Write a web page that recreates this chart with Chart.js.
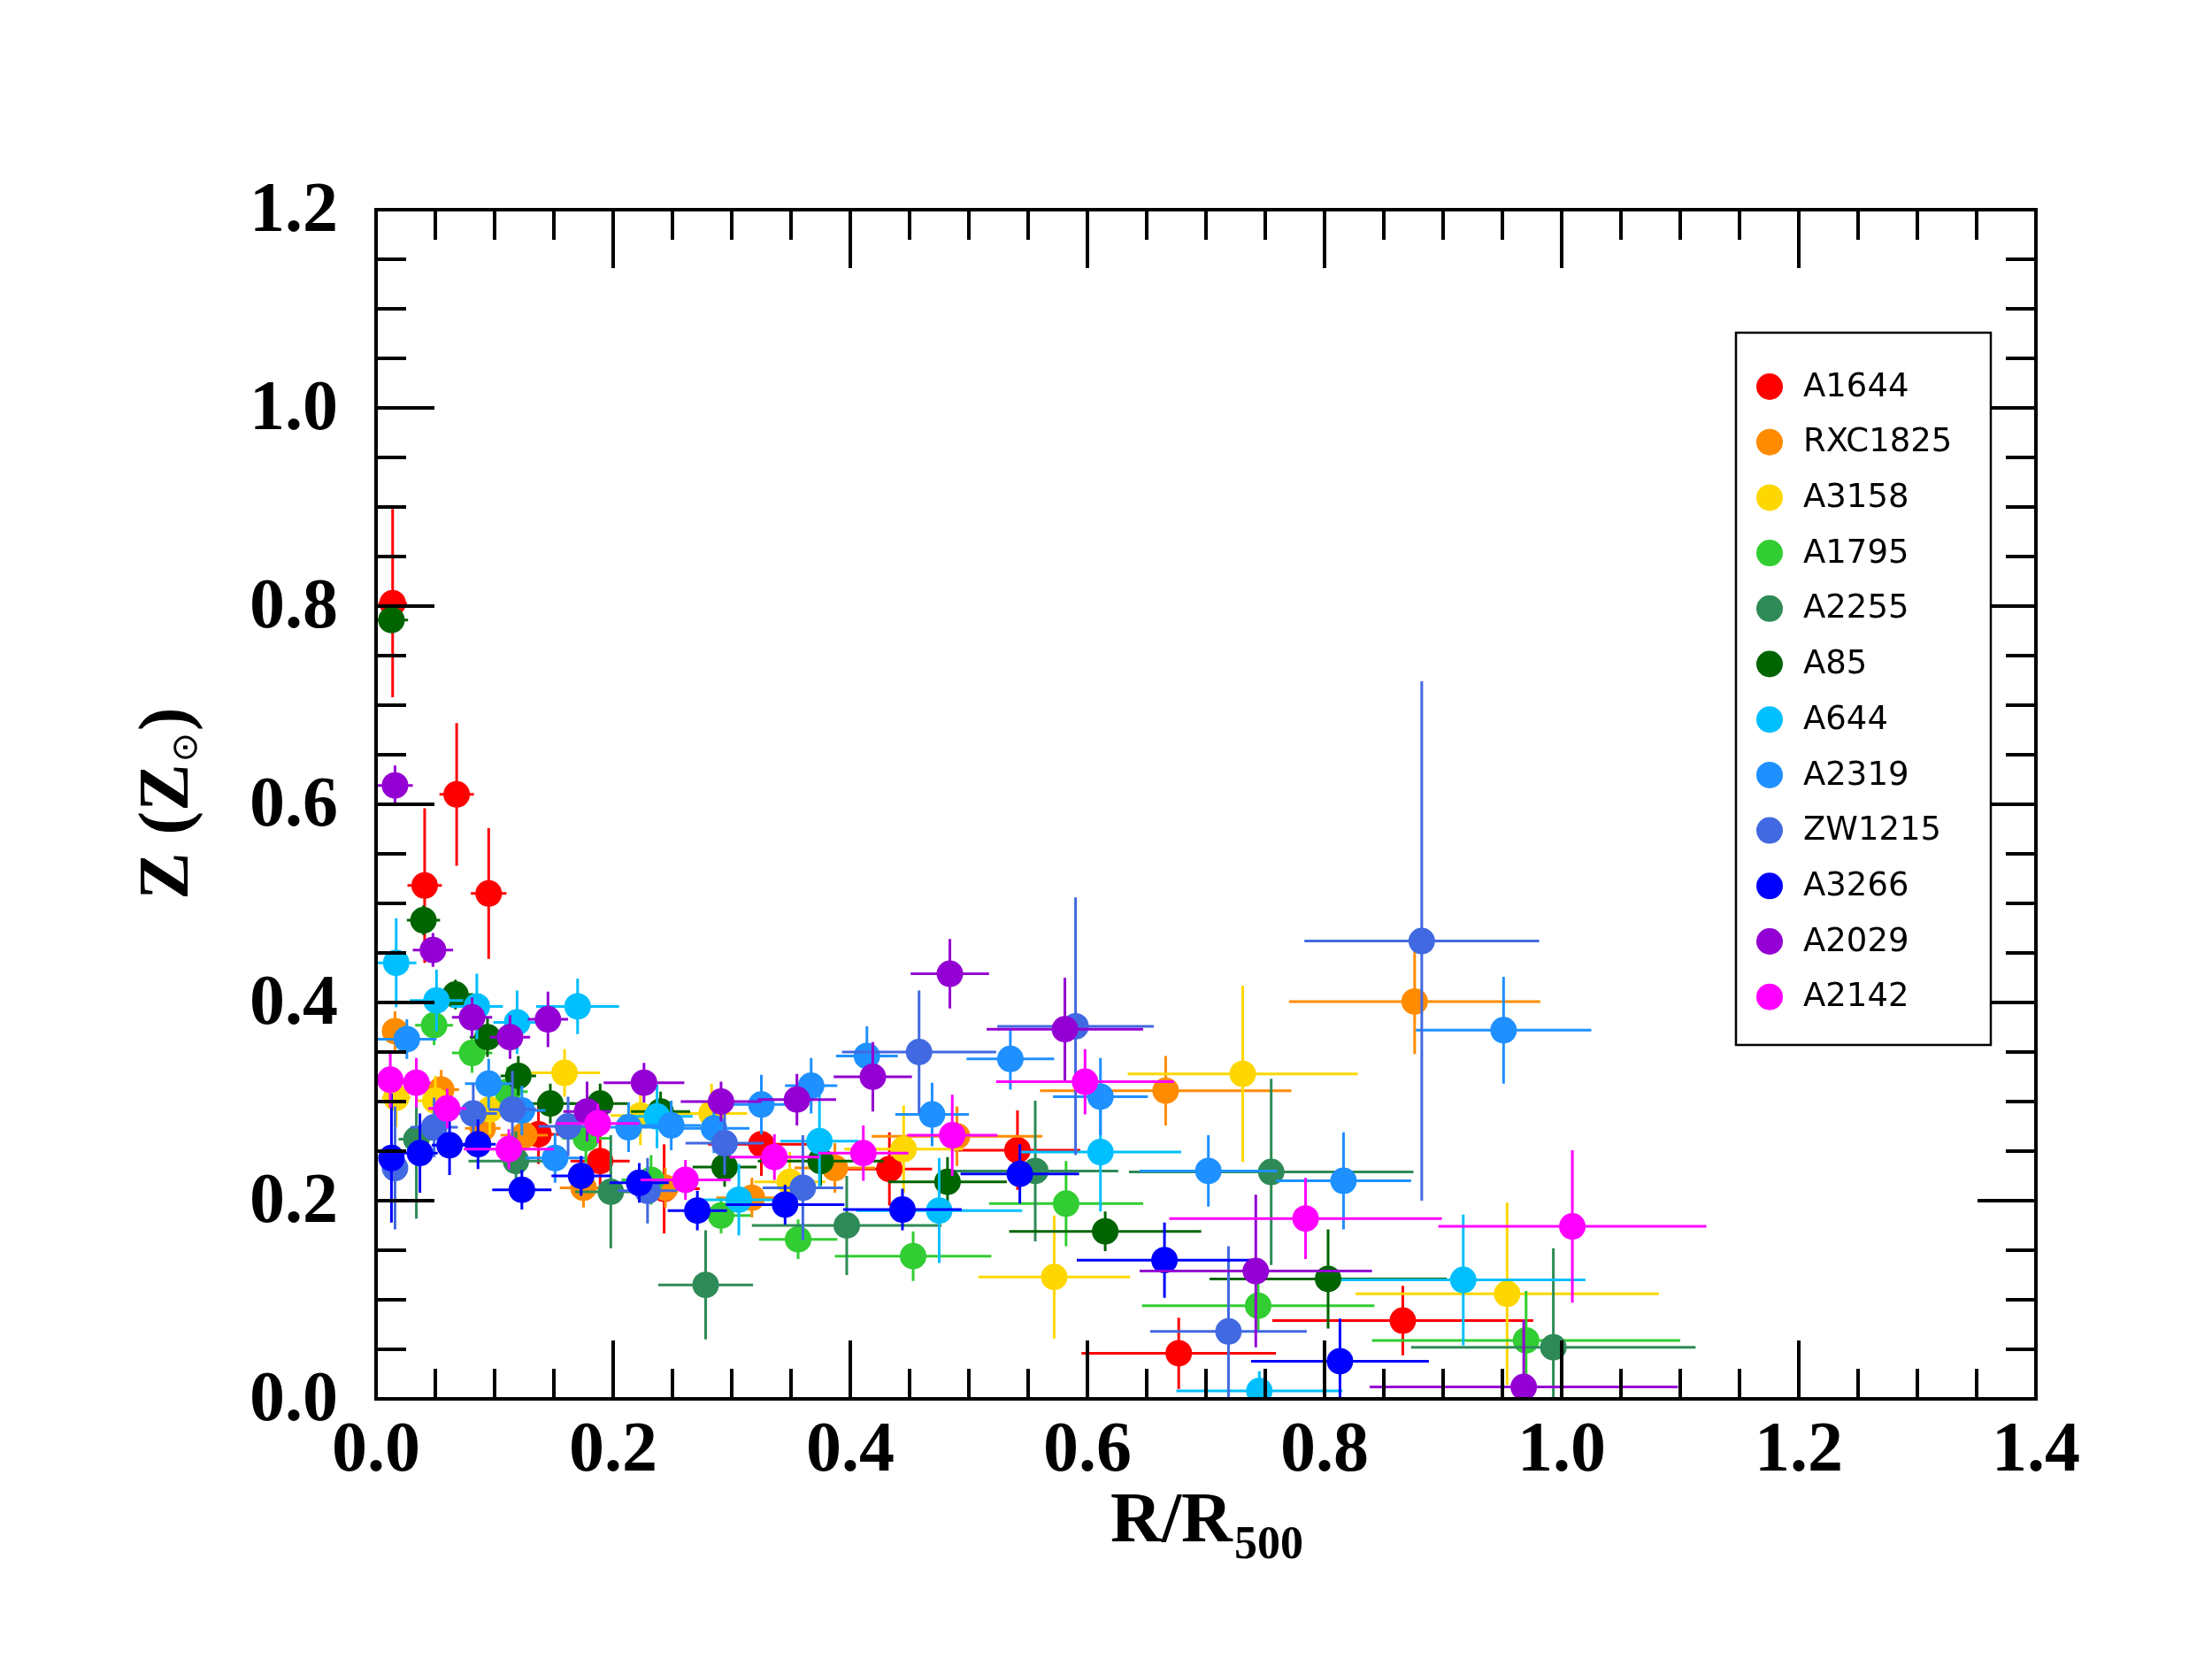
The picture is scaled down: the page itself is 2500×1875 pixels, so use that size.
<!DOCTYPE html>
<html>
<head>
<meta charset="utf-8">
<title>Metallicity profiles</title>
<script src="https://cdn.jsdelivr.net/npm/chart.js@4.4.1/dist/chart.umd.min.js"></script>
<style>
  html, body { margin: 0; padding: 0; background: #ffffff; }
  #wrap { width: 2500px; height: 1875px; }
</style>
</head>
<body>
<div id="wrap"><canvas id="zChart" width="2500" height="1875"></canvas></div>
<script>

// Cluster names and their marker colours.
const clusters = ['A1644', 'RXC1825', 'A3158', 'A1795', 'A2255', 'A85',
                  'A644', 'A2319', 'ZW1215', 'A3266', 'A2029', 'A2142'];
const colours = ['#ff0000', '#ff8c00', '#ffd700', '#32cd32', '#2e8b57', '#006400',
                 '#00bfff', '#1e90ff', '#4169e1', '#0000ff', '#9400d3', '#ff00ff'];

// Axis tick labels.
const xTicks = [0.0, 0.2, 0.4, 0.6, 0.8, 1.0, 1.2, 1.4];
const yTicks = [0.0, 0.2, 0.4, 0.6, 0.8, 1.0, 1.2];

// Each row: [R/R500, Z, error in R, error in Z]
const A1644 = [
  [0.014, 0.803, 0.012, 0.095], [0.041, 0.518, 0.0145, 0.078], [0.068, 0.610, 0.0145, 0.072],
  [0.095, 0.510, 0.015, 0.066], [0.137, 0.267, 0.020, 0.030], [0.189, 0.240, 0.025, 0.030],
  [0.243, 0.212, 0.030, 0.045], [0.325, 0.257, 0.045, 0.032], [0.433, 0.232, 0.036, 0.037],
  [0.541, 0.251, 0.053, 0.040], [0.677, 0.046, 0.082, 0.036], [0.866, 0.079, 0.110, 0.035]
];
const RXC1825 = [
  [0.016, 0.371, 0.010, 0.020], [0.055, 0.312, 0.015, 0.020], [0.090, 0.273, 0.015, 0.020],
  [0.125, 0.266, 0.020, 0.025], [0.175, 0.213, 0.020, 0.020], [0.244, 0.213, 0.025, 0.020],
  [0.317, 0.203, 0.030, 0.020], [0.387, 0.233, 0.034, 0.025], [0.490, 0.265, 0.072, 0.030],
  [0.666, 0.311, 0.106, 0.035], [0.876, 0.401, 0.106, 0.053]
];
const A3158 = [
  [0.017, 0.304, 0.012, 0.030], [0.050, 0.301, 0.015, 0.025], [0.096, 0.292, 0.015, 0.025],
  [0.159, 0.329, 0.030, 0.024], [0.223, 0.286, 0.025, 0.030], [0.283, 0.288, 0.030, 0.030],
  [0.349, 0.219, 0.030, 0.030], [0.445, 0.252, 0.050, 0.044], [0.572, 0.123, 0.064, 0.062],
  [0.731, 0.328, 0.097, 0.089], [0.954, 0.106, 0.128, 0.092]
];
const A1795 = [
  [0.049, 0.377, 0.016, 0.020], [0.081, 0.349, 0.017, 0.020], [0.111, 0.310, 0.017, 0.025],
  [0.177, 0.263, 0.020, 0.025], [0.232, 0.221, 0.025, 0.025], [0.291, 0.185, 0.025, 0.018],
  [0.356, 0.161, 0.033, 0.020], [0.453, 0.144, 0.066, 0.025], [0.582, 0.197, 0.065, 0.043],
  [0.744, 0.094, 0.098, 0.025], [0.970, 0.059, 0.130, 0.050]
];
const A2255 = [
  [0.034, 0.262, 0.015, 0.080], [0.118, 0.240, 0.040, 0.030], [0.198, 0.209, 0.030, 0.057],
  [0.278, 0.115, 0.040, 0.055], [0.397, 0.175, 0.080, 0.050], [0.556, 0.230, 0.070, 0.071],
  [0.755, 0.229, 0.120, 0.094], [0.993, 0.052, 0.120, 0.100]
];
const A85 = [
  [0.013, 0.786, 0.014, 0.010], [0.040, 0.483, 0.014, 0.015], [0.067, 0.408, 0.015, 0.015],
  [0.094, 0.365, 0.015, 0.020], [0.120, 0.326, 0.015, 0.020], [0.147, 0.298, 0.020, 0.020],
  [0.189, 0.298, 0.025, 0.020], [0.240, 0.290, 0.025, 0.020], [0.294, 0.234, 0.027, 0.020],
  [0.375, 0.240, 0.053, 0.025], [0.482, 0.219, 0.050, 0.025], [0.615, 0.169, 0.081, 0.020],
  [0.803, 0.121, 0.100, 0.050]
];
const A644 = [
  [0.017, 0.440, 0.017, 0.045], [0.051, 0.402, 0.0225, 0.031], [0.085, 0.396, 0.022, 0.033],
  [0.119, 0.380, 0.020, 0.032], [0.170, 0.396, 0.035, 0.028], [0.237, 0.285, 0.030, 0.032],
  [0.306, 0.201, 0.030, 0.036], [0.374, 0.260, 0.033, 0.047], [0.475, 0.190, 0.070, 0.053],
  [0.611, 0.249, 0.068, 0.060], [0.745, 0.008, 0.070, 0.020], [0.917, 0.120, 0.103, 0.066]
];
const A2319 = [
  [0.026, 0.363, 0.025, 0.020], [0.095, 0.318, 0.020, 0.025], [0.123, 0.291, 0.020, 0.025],
  [0.151, 0.243, 0.025, 0.025], [0.213, 0.274, 0.025, 0.025], [0.249, 0.276, 0.025, 0.025],
  [0.285, 0.273, 0.030, 0.025], [0.325, 0.297, 0.030, 0.030], [0.367, 0.316, 0.022, 0.028],
  [0.414, 0.346, 0.026, 0.030], [0.469, 0.287, 0.031, 0.032], [0.535, 0.343, 0.037, 0.031],
  [0.611, 0.305, 0.040, 0.039], [0.702, 0.230, 0.058, 0.036], [0.816, 0.220, 0.057, 0.049],
  [0.951, 0.372, 0.074, 0.054]
];
const ZW1215 = [
  [0.016, 0.233, 0.010, 0.062], [0.049, 0.274, 0.020, 0.030], [0.082, 0.288, 0.020, 0.030],
  [0.115, 0.292, 0.020, 0.039], [0.162, 0.275, 0.025, 0.030], [0.229, 0.210, 0.025, 0.033],
  [0.294, 0.258, 0.033, 0.032], [0.360, 0.213, 0.034, 0.053], [0.458, 0.350, 0.065, 0.062],
  [0.590, 0.376, 0.066, 0.130], [0.719, 0.068, 0.066, 0.086], [0.882, 0.462, 0.099, 0.262]
];
const A3266 = [
  [0.013, 0.243, 0.010, 0.065], [0.037, 0.248, 0.015, 0.040], [0.062, 0.256, 0.015, 0.030],
  [0.086, 0.257, 0.015, 0.025], [0.123, 0.211, 0.025, 0.020], [0.173, 0.225, 0.025, 0.020],
  [0.222, 0.218, 0.025, 0.020], [0.271, 0.190, 0.025, 0.020], [0.345, 0.196, 0.050, 0.020],
  [0.444, 0.191, 0.050, 0.021], [0.543, 0.227, 0.050, 0.030], [0.665, 0.140, 0.074, 0.038],
  [0.813, 0.038, 0.075, 0.043]
];
const A2029 = [
  [0.016, 0.619, 0.015, 0.020], [0.048, 0.453, 0.017, 0.017], [0.081, 0.385, 0.017, 0.020],
  [0.113, 0.365, 0.017, 0.022], [0.145, 0.383, 0.017, 0.028], [0.178, 0.290, 0.020, 0.030],
  [0.226, 0.319, 0.034, 0.020], [0.291, 0.300, 0.034, 0.020], [0.355, 0.302, 0.033, 0.026],
  [0.419, 0.325, 0.033, 0.035], [0.484, 0.429, 0.033, 0.035], [0.581, 0.373, 0.066, 0.052],
  [0.742, 0.129, 0.098, 0.077], [0.968, 0.012, 0.130, 0.068]
];
const A2142 = [
  [0.012, 0.322, 0.010, 0.028], [0.034, 0.319, 0.012, 0.025], [0.060, 0.293, 0.016, 0.020],
  [0.112, 0.252, 0.038, 0.020], [0.187, 0.278, 0.035, 0.020], [0.261, 0.221, 0.038, 0.020],
  [0.336, 0.244, 0.038, 0.023], [0.411, 0.248, 0.038, 0.028], [0.486, 0.266, 0.038, 0.041],
  [0.598, 0.320, 0.075, 0.033], [0.784, 0.182, 0.115, 0.041], [1.009, 0.174, 0.113, 0.077]
];

const series = [A1644, RXC1825, A3158, A1795, A2255, A85, A644, A2319, ZW1215, A3266, A2029, A2142];


/*****/

const serif = '"Liberation Serif", "Times New Roman", serif';
const sans = '"DejaVu Sans", sans-serif';

// Build one scatter dataset per cluster; later clusters are drawn on top.
const datasets = clusters.map((name, i) => ({
  label: name,
  data: series[i].map(r => ({ x: r[0], y: r[1], xErr: r[2], yErr: r[3] })),
  backgroundColor: colours[i],
  borderWidth: 0,
  pointRadius: 15,
  pointHoverRadius: 15,
  order: clusters.length - i
}));

// Error bars: plain crosses, drawn just before each dataset's points.
const errorBars = {
  id: 'errorBars',
  beforeDatasetDraw(chart, args) {
    const ds = chart.data.datasets[args.index];
    const xs = chart.scales.x, ys = chart.scales.y, a = chart.chartArea;
    const ctx = chart.ctx;
    ctx.save();
    ctx.beginPath();
    ctx.rect(a.left, a.top, a.right - a.left, a.bottom - a.top);
    ctx.clip();
    ctx.strokeStyle = ds.backgroundColor;
    ctx.lineWidth = 3;
    ds.data.forEach(p => {
      const px = xs.getPixelForValue(p.x), py = ys.getPixelForValue(p.y);
      ctx.beginPath();
      ctx.moveTo(xs.getPixelForValue(p.x - p.xErr), py);
      ctx.lineTo(xs.getPixelForValue(p.x + p.xErr), py);
      ctx.moveTo(px, ys.getPixelForValue(p.y - p.yErr));
      ctx.lineTo(px, ys.getPixelForValue(p.y + p.yErr));
      ctx.stroke();
    });
    ctx.restore();
  }
};

// Box round the plot with inward ticks on all four sides.
const frame = {
  id: 'frame',
  afterDatasetsDraw(chart) {
    const ctx = chart.ctx, a = chart.chartArea;
    const xs = chart.scales.x, ys = chart.scales.y;
    const major = 66, minor = 34;
    ctx.save();
    ctx.strokeStyle = '#000';
    ctx.lineWidth = 4;
    ctx.lineCap = 'butt';
    ctx.beginPath();
    for (let k = 0; k <= 28; k++) {
      const len = (k % 4 === 0) ? major : minor;
      const px = xs.getPixelForValue(k * 0.05);
      ctx.moveTo(px, a.bottom); ctx.lineTo(px, a.bottom - len);
      ctx.moveTo(px, a.top); ctx.lineTo(px, a.top + len);
    }
    for (let k = 0; k <= 24; k++) {
      const len = (k % 4 === 0) ? major : minor;
      const py = ys.getPixelForValue(k * 0.05);
      ctx.moveTo(a.left, py); ctx.lineTo(a.left + len, py);
      ctx.moveTo(a.right, py); ctx.lineTo(a.right - len, py);
    }
    ctx.stroke();
    ctx.strokeRect(a.left, a.top, a.right - a.left, a.bottom - a.top);
    ctx.restore();
  }
};

// Axis titles with subscripts, and the boxed legend.
const labels = {
  id: 'labels',
  afterDraw(chart) {
    const ctx = chart.ctx, a = chart.chartArea;
    ctx.save();
    ctx.fillStyle = '#000';
    ctx.textBaseline = 'alphabetic';
    ctx.textAlign = 'left';

    // x title: R/R500
    const big = 'bold 80px ' + serif, small = 'bold 52px ' + serif;
    ctx.font = big;
    const w1 = ctx.measureText('R/R').width;
    ctx.font = small;
    const w2 = ctx.measureText('500').width;
    let x0 = (a.left + a.right) / 2 - (w1 + w2) / 2;
    ctx.font = big;
    ctx.fillText('R/R', x0, 1742);
    ctx.font = small;
    ctx.fillText('500', x0 + w1 + 2, 1761);

    // y title: Z (Z⊙)
    ctx.save();
    ctx.translate(212, (a.top + a.bottom) / 2 - 1);
    ctx.rotate(-Math.PI / 2);
    const sunFont = '40px ' + sans;
    ctx.font = big;
    const t1 = ctx.measureText('Z (Z').width;
    const t3 = ctx.measureText(')').width;
    ctx.font = sunFont;
    const t2 = ctx.measureText('\u2299').width;
    let s0 = -(t1 + t2 + t3 + 4) / 2;
    ctx.font = big;
    ctx.fillText('Z (Z', s0, 0);
    ctx.font = sunFont;
    ctx.fillText('\u2299', s0 + t1 + 2, 10);
    ctx.font = big;
    ctx.fillText(')', s0 + t1 + t2 + 4, 0);
    ctx.restore();

    // legend
    const bx = 1962, by = 376, bw = 288, bh = 805;
    ctx.fillStyle = '#fff';
    ctx.fillRect(bx, by, bw, bh);
    ctx.strokeStyle = '#000';
    ctx.lineWidth = 2.5;
    ctx.strokeRect(bx, by, bw, bh);
    ctx.font = '37px ' + sans;
    ctx.textBaseline = 'middle';
    chart.data.datasets.forEach((ds, i) => {
      const cy = 437 + i * 62.7;
      ctx.fillStyle = ds.backgroundColor;
      ctx.beginPath();
      ctx.arc(2000, cy, 15, 0, 2 * Math.PI);
      ctx.fill();
      ctx.fillStyle = '#000';
      ctx.fillText(ds.label, 2038, cy + 1);
    });
    ctx.restore();
  }
};

const zChart = new Chart(document.getElementById('zChart').getContext('2d'), {
  type: 'scatter',
  data: { datasets: datasets },
  options: {
    responsive: false,
    animation: false,
    devicePixelRatio: 1,
    events: [],
    layout: { padding: { left: 0, top: 237, right: 199, bottom: 0 } },
    plugins: { legend: { display: false }, tooltip: { enabled: false } },
    scales: {
      x: {
        type: 'linear', min: 0, max: 1.4,
        afterFit: s => { s.height = 294; },
        afterBuildTicks: s => { s.ticks = xTicks.map(v => ({ value: v })); },
        grid: { display: false, drawTicks: false },
        border: { display: false },
        ticks: {
          autoSkip: false, maxRotation: 0, padding: 12, color: '#000',
          font: { family: serif, size: 80, weight: 'bold' },
          callback: v => Number(v).toFixed(1)
        }
      },
      y: {
        type: 'linear', min: 0, max: 1.2,
        afterFit: s => { s.width = 425; },
        afterBuildTicks: s => { s.ticks = yTicks.map(v => ({ value: v })); },
        grid: { display: false, drawTicks: false },
        border: { display: false },
        ticks: {
          autoSkip: false, padding: 43, labelOffset: 3, color: '#000',
          font: { family: serif, size: 80, weight: 'bold' },
          callback: v => Number(v).toFixed(1)
        }
      }
    }
  },
  plugins: [errorBars, frame, labels]
});
</script>
</body>
</html>
